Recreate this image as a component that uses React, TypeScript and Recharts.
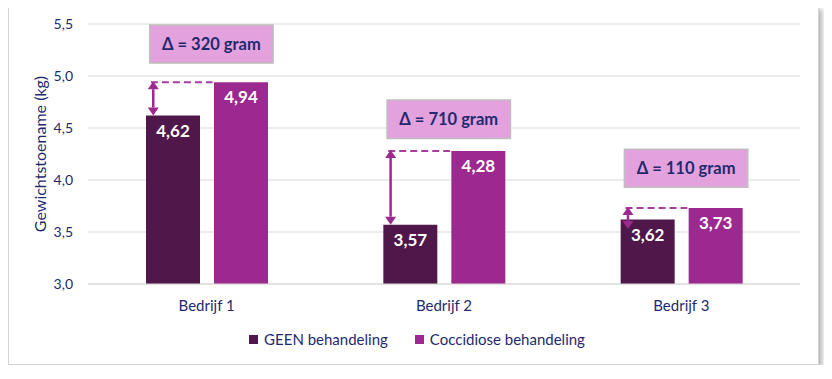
import React from 'react';
import {
  BarChart,
  Bar,
  XAxis,
  YAxis,
  CartesianGrid,
  Legend,
  LabelList,
  ReferenceArea,
  ReferenceLine,
} from 'recharts';

const categories = ['Bedrijf 1', 'Bedrijf 2', 'Bedrijf 3'];
const geenValues = [4.62, 3.57, 3.62];
const coccidioseValues = [4.94, 4.28, 3.73];
const deltaLabels = ['Δ = 320 gram', 'Δ = 710 gram', 'Δ = 110 gram'];
const yTicks = [3.0, 3.5, 4.0, 4.5, 5.0, 5.5];

// where the delta boxes sit (y range in kg)
const boxRanges: [number, number][] = [
  [5.125, 5.49],
  [4.4, 4.77],
  [3.93, 4.295],
];

const NAVY = '#1F2A6E';
const DARK = '#50174A';
const MAGENTA = '#9C298F';
const FONT = 'Lato, "Open Sans", sans-serif';

const data = categories.map((name, i) => ({
  name,
  idx: i + 0.5,
  geen: geenValues[i],
  cocci: coccidioseValues[i],
}));

const fmt = (v: any) => Number(v).toFixed(2).replace('.', ',');

const DoubleArrow = (props: any) => {
  const { x1, y1, y2 } = props;
  const top = Math.min(y1, y2) - 1;
  // short arrows still get two full heads, they just run into the bar
  const bot = Math.max(Math.max(y1, y2), top + 22);
  const head = 8;
  const hw = 5.5;
  return (
    <g>
      <line x1={x1} y1={top + head} x2={x1} y2={bot - head} stroke={MAGENTA} strokeWidth={2.5} />
      <polygon points={`${x1},${top} ${x1 - hw},${top + head} ${x1 + hw},${top + head}`} fill={MAGENTA} />
      <polygon points={`${x1},${bot} ${x1 - hw},${bot - head} ${x1 + hw},${bot - head}`} fill={MAGENTA} />
    </g>
  );
};

const LegendContent = () => (
  <div style={{ display: 'flex', justifyContent: 'center', gap: 27, fontFamily: FONT, fontSize: 15, color: NAVY }}>
    {[
      { label: 'GEEN behandeling', color: DARK },
      { label: 'Coccidiose behandeling', color: MAGENTA },
    ].map((it) => (
      <div key={it.label} style={{ display: 'flex', alignItems: 'center', gap: 6 }}>
        <span style={{ display: 'inline-block', width: 9, height: 9, background: it.color }} />
        <span>{it.label}</span>
      </div>
    ))}
  </div>
);

export default function App() {
  return (
    <div
      style={{
        width: 809,
        height: 357,
        marginTop: -2,
        border: '1px solid #D4D4D4',
        boxShadow: '3px 3px 5px rgba(0,0,0,0.3)',
        background: '#fff',
      }}
    >
      <BarChart
        width={809}
        height={357}
        data={data}
        margin={{ top: 17, right: 18, left: 0, bottom: 32 }}
        barSize={54}
        barGap={14}
      >
        <CartesianGrid vertical={false} stroke="#D9D9D9" />
        <XAxis
          dataKey="name"
          axisLine={{ stroke: '#D9D9D9' }}
          tickLine={false}
          tickMargin={10}
          tick={{ fill: NAVY, fontSize: 15, fontFamily: FONT }}
        />
        <XAxis xAxisId="pos" type="number" dataKey="idx" domain={[0, 3]} hide />
        <YAxis
          width={79}
          domain={[3, 5.5]}
          ticks={yTicks}
          axisLine={false}
          tickLine={false}
          tickMargin={9}
          tickFormatter={(v: number) => v.toFixed(1).replace('.', ',')}
          tick={{ fill: NAVY, fontSize: 14, fontFamily: FONT }}
          label={{
            value: 'Gewichtstoename (kg)',
            angle: -90,
            position: 'insideLeft',
            offset: 31,
            style: { textAnchor: 'middle', fill: NAVY, fontSize: 16, fontFamily: FONT },
          }}
        />
        <Legend
          content={<LegendContent />}
          wrapperStyle={{ top: 323, left: 7, width: 802 }}
        />
        <Bar dataKey="geen" name="GEEN behandeling" fill={DARK} isAnimationActive={false}>
          <LabelList
            dataKey="geen"
            position="insideTop"
            offset={9}
            formatter={fmt}
            fill="#fff"
            fontSize={17}
            fontWeight={700}
            fontFamily={FONT}
          />
        </Bar>
        <Bar dataKey="cocci" name="Coccidiose behandeling" fill={MAGENTA} isAnimationActive={false}>
          <LabelList
            dataKey="cocci"
            position="insideTop"
            offset={9}
            formatter={fmt}
            fill="#fff"
            fontSize={17}
            fontWeight={700}
            fontFamily={FONT}
          />
        </Bar>
        {categories.map((c, i) => (
          <ReferenceArea
            key={`box-${c}`}
            xAxisId="pos"
            x1={i + 0.26}
            x2={i + 0.78}
            y1={boxRanges[i][0]}
            y2={boxRanges[i][1]}
            fill="#E3A1DD"
            fillOpacity={1}
            stroke="#BFBFBF"
            strokeWidth={1.5}
            label={{ value: deltaLabels[i], position: 'center', fill: NAVY, fontSize: 16.5, fontWeight: 700, fontFamily: FONT }}
          />
        ))}
        {categories.map((c, i) => (
          <ReferenceLine
            key={`dash-${c}`}
            xAxisId="pos"
            segment={[
              { x: i + 0.265, y: coccidioseValues[i] },
              { x: i + 0.525, y: coccidioseValues[i] },
            ]}
            stroke="#A83DA0"
            strokeWidth={2}
            strokeDasharray="7 4"
          />
        ))}
        {categories.map((c, i) => (
          <ReferenceLine
            key={`arrow-${c}`}
            xAxisId="pos"
            segment={[
              { x: i + 0.275, y: coccidioseValues[i] },
              { x: i + 0.275, y: geenValues[i] },
            ]}
            shape={<DoubleArrow />}
          />
        ))}
      </BarChart>
    </div>
  );
}
